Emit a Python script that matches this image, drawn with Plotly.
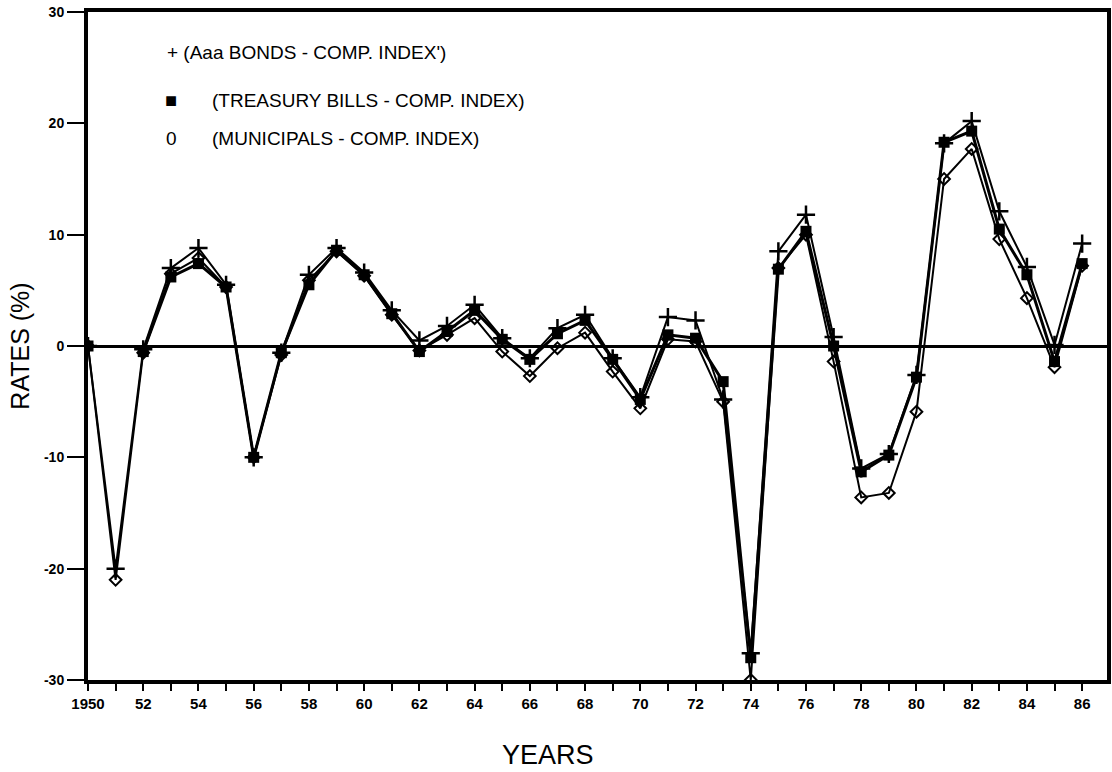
import plotly.graph_objects as go

years = list(range(1950, 1987))

bonds = [0, -20.0, -0.3, 7.0, 8.8, 5.5, -10.0, -0.6, 6.4, 8.8, 6.6, 3.2, 0.5, 1.8, 3.7,
         0.7, -1.1, 1.6, 2.8, -1.1, -4.6, 2.6, 2.3, -4.8, -27.6, 8.5, 11.8, 0.8, -11.0,
         -9.7, -2.6, 18.2, 20.2, 12.1, 7.1, 0.1, 9.2]

treasury = [0, None, -0.5, 6.2, 7.4, 5.3, -10.0, -0.6, 5.5, 8.6, 6.4, 2.9, -0.5, 1.3, 3.2,
            0.6, -1.2, 1.1, 2.3, -1.2, -4.8, 1.0, 0.7, -3.2, -28.0, 6.9, 10.3, 0.0, -11.3,
            -9.8, -2.8, 18.3, 19.3, 10.5, 6.4, -1.4, 7.4]

municipals = [0, -21.0, -0.6, 6.5, 7.9, 5.3, -10.0, -0.8, 5.9, 8.5, 6.3, 2.8, -0.4, 1.0, 2.5,
              -0.5, -2.7, -0.2, 1.2, -2.3, -5.6, 0.6, 0.4, -5.0, -30.0, 7.0, 10.0, -1.4, -13.6,
              -13.2, -5.9, 15.0, 17.7, 9.6, 4.3, -1.9, 7.2]

xtick_vals = list(range(1950, 1987, 2))
xtick_text = ["1950"] + [str(y % 100) for y in range(1952, 1987, 2)]
ytick_vals = [-30, -20, -10, 0, 10, 20, 30]
ytick_text = ["-30", "-20", "-10", "0", "10", "20", "30"]

legend_labels = ["+ (Aaa BONDS - COMP. INDEX')",
                 "(TREASURY BILLS - COMP. INDEX)",
                 "(MUNICIPALS - COMP. INDEX)"]

fig = go.Figure()

fig.add_trace(go.Scatter(
    x=years, y=municipals, mode="lines+markers", name=legend_labels[2],
    line=dict(color="black", width=2),
    marker=dict(symbol="diamond-open", size=9, color="black", line=dict(width=2, color="black")),
    showlegend=False))

fig.add_trace(go.Scatter(
    x=years, y=bonds, mode="lines+markers", name=legend_labels[0],
    line=dict(color="black", width=2),
    marker=dict(symbol="cross-thin-open", size=13, color="black", line=dict(width=2.5, color="black")),
    showlegend=False))

fig.add_trace(go.Scatter(
    x=years, y=treasury, mode="lines+markers", name=legend_labels[1],
    line=dict(color="black", width=3),
    marker=dict(symbol="square", size=11, color="black", line=dict(width=0)),
    showlegend=False))

W, H = 1112, 772
L, T = 88, 12
R = W - 1107
B = H - 680
PW, PH = W - L - R, H - T - B

fig.update_layout(
    width=W, height=H,
    margin=dict(l=L, r=R, t=T, b=B),
    paper_bgcolor="white", plot_bgcolor="white",
    font=dict(family="Liberation Sans, Arial, sans-serif", color="black"),
    xaxis=dict(
        range=[1950, 1986.9], tickvals=xtick_vals, ticktext=xtick_text,
        tickfont=dict(size=15, family="Liberation Sans, Arial", weight="bold"),
        ticks="outside", ticklen=7, tickwidth=2, tickcolor="black",
        minor=dict(dtick=1, tick0=1950, ticks="outside", ticklen=7, tickwidth=2, tickcolor="black"),
        showline=True, linecolor="black", linewidth=4, mirror=True,
        showgrid=False, zeroline=False, automargin=False,
    ),
    yaxis=dict(
        range=[-30, 30], tickvals=ytick_vals, ticktext=ytick_text,
        tickfont=dict(size=14, family="Liberation Sans, Arial", weight="bold"),
        ticks="outside", ticklen=17, tickwidth=2, tickcolor="black",
        showline=True, linecolor="black", linewidth=4, mirror=True,
        showgrid=False, zeroline=True, zerolinecolor="black", zerolinewidth=2.5,
        automargin=False,
        title=dict(text="RATES (%)", font=dict(size=25), standoff=8),
    ),
)


def px(xp):
    return (xp - L) / PW


def py(yp):
    return 1 - (yp - T) / PH


fig.add_annotation(xref="paper", yref="paper", x=px(548), y=py(755),
                   text="YEARS", showarrow=False, xanchor="center", yanchor="middle",
                   font=dict(size=27, family="Liberation Sans, Arial", color="black"))

ann_font = dict(size=19, family="Liberation Sans, Arial", color="black")
fig.add_annotation(xref="paper", yref="paper", x=px(165), y=py(52),
                   text=legend_labels[0], showarrow=False, xanchor="left", yanchor="middle", font=ann_font)
fig.add_annotation(xref="paper", yref="paper", x=px(163), y=py(100),
                   text="■", showarrow=False, xanchor="left", yanchor="middle",
                   font=dict(size=20, color="black"))
fig.add_annotation(xref="paper", yref="paper", x=px(210), y=py(100),
                   text=legend_labels[1], showarrow=False, xanchor="left", yanchor="middle", font=ann_font)
fig.add_annotation(xref="paper", yref="paper", x=px(164), y=py(138),
                   text="0", showarrow=False, xanchor="left", yanchor="middle", font=ann_font)
fig.add_annotation(xref="paper", yref="paper", x=px(210), y=py(138),
                   text=legend_labels[2], showarrow=False, xanchor="left", yanchor="middle", font=ann_font)

fig.write_html("out.html", config={"displayModeBar": False},
               post_script="document.body.style.margin='0';")
